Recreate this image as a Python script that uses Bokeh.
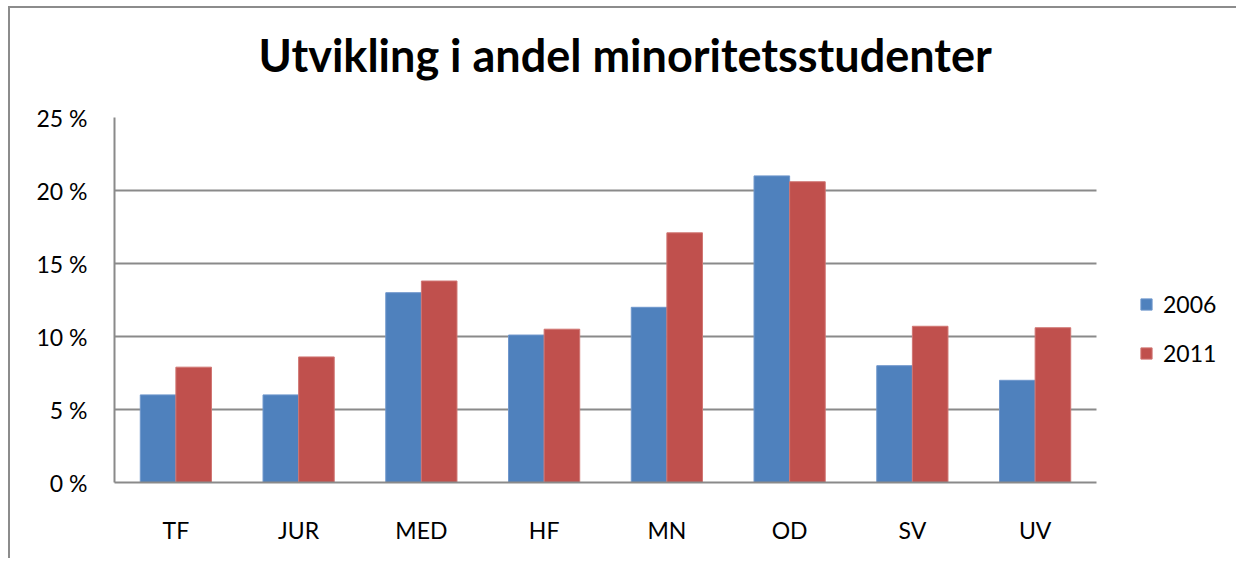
from bokeh.plotting import figure
from bokeh.models import (ColumnDataSource, Range1d, FixedTicker, Title,
                          CustomJSTickFormatter, Legend, LegendItem)
from bokeh.transform import dodge
from bokeh.embed import file_html
from bokeh.resources import INLINE

categories = ["TF", "JUR", "MED", "HF", "MN", "OD", "SV", "UV"]
v2006 = [6.0, 6.0, 13.0, 10.1, 12.0, 21.0, 8.0, 7.0]
v2011 = [7.9, 8.6, 13.8, 10.5, 17.1, 20.6, 10.7, 10.6]
series_names = ["2006", "2011"]
y_ticks = [0, 5, 10, 15, 20, 25]
title_text = "Utvikling i andel minoritetsstudenter"

FONT = "Lato"
GRID = "#8a8a8a"

n = len(categories)
xpos = [i + 0.5 for i in range(n)]
src = ColumnDataSource(dict(x=xpos, cat=categories, a=v2006, b=v2011))

# plot area of categories is 982px wide; frame extends further right to hold the legend
x_end = n * 1124 / 982

p = figure(width=1228, height=552, output_backend="svg", toolbar_location=None,
           x_range=Range1d(0, x_end), y_range=Range1d(0, 25),
           min_border_left=104, min_border_right=0,
           min_border_top=109, min_border_bottom=78)
p.styles = {"border-left": "2px solid #8c8c8c", "border-top": "2px solid #8c8c8c",
            "margin-left": "8px", "margin-top": "6px"}

p.title.text = title_text
p.title.align = "left"
p.title.offset = 144
p.title.vertical_align = "bottom"
p.title.text_font = FONT
p.title.text_font_style = "bold"
p.title.text_font_size = "45px"
p.title.text_color = "black"
p.title.standoff = 0

# empty spacer between the title and the plot area
spacer = Title(text=" ", text_font_size="1px", standoff=33)
p.add_layout(spacer, "above")

r1 = p.vbar(x=dodge("x", -0.145), top="a", width=0.29, source=src,
            fill_color="#4F81BD", line_color="#6f97cc", line_width=1)
r2 = p.vbar(x=dodge("x", 0.145), top="b", width=0.29, source=src,
            fill_color="#C0504D", line_color="#d07572", line_width=1)

p.outline_line_color = None
p.xgrid.grid_line_color = None
p.ygrid.grid_line_color = GRID
p.ygrid.grid_line_width = 2
p.ygrid.ticker = FixedTicker(ticks=y_ticks)
p.ygrid.cross_bounds = (0, n)

p.yaxis.ticker = FixedTicker(ticks=y_ticks)
p.yaxis.formatter = CustomJSTickFormatter(code="return Math.round(tick) + ' %';")
p.xaxis.ticker = FixedTicker(ticks=xpos)
p.xaxis.formatter = CustomJSTickFormatter(args=dict(cats=categories),
                                          code="return cats[Math.floor(tick)];")
p.xaxis.bounds = (0, n)
for ax in (p.xaxis, p.yaxis):
    ax.axis_line_color = GRID
    ax.axis_line_width = 2
    ax.major_tick_line_color = None
    ax.minor_tick_line_color = None
    ax.major_label_text_font = FONT
    ax.major_label_text_font_size = "23px"
    ax.major_label_text_color = "black"
p.yaxis.major_label_standoff = 21
p.xaxis.major_label_standoff = 27

legend = Legend(items=[LegendItem(label=series_names[0], renderers=[r1]),
                       LegendItem(label=series_names[1], renderers=[r2])],
                location=(1025, 115))
legend.border_line_color = None
legend.background_fill_alpha = 0
legend.padding = 0
legend.margin = 0
legend.glyph_width = 14
legend.glyph_height = 14
legend.spacing = 21
legend.label_standoff = 10
legend.label_text_font = FONT
legend.label_text_font_size = "23px"
legend.label_text_color = "black"
p.add_layout(legend, "center")

open("out.html", "w").write(file_html(p, INLINE))
